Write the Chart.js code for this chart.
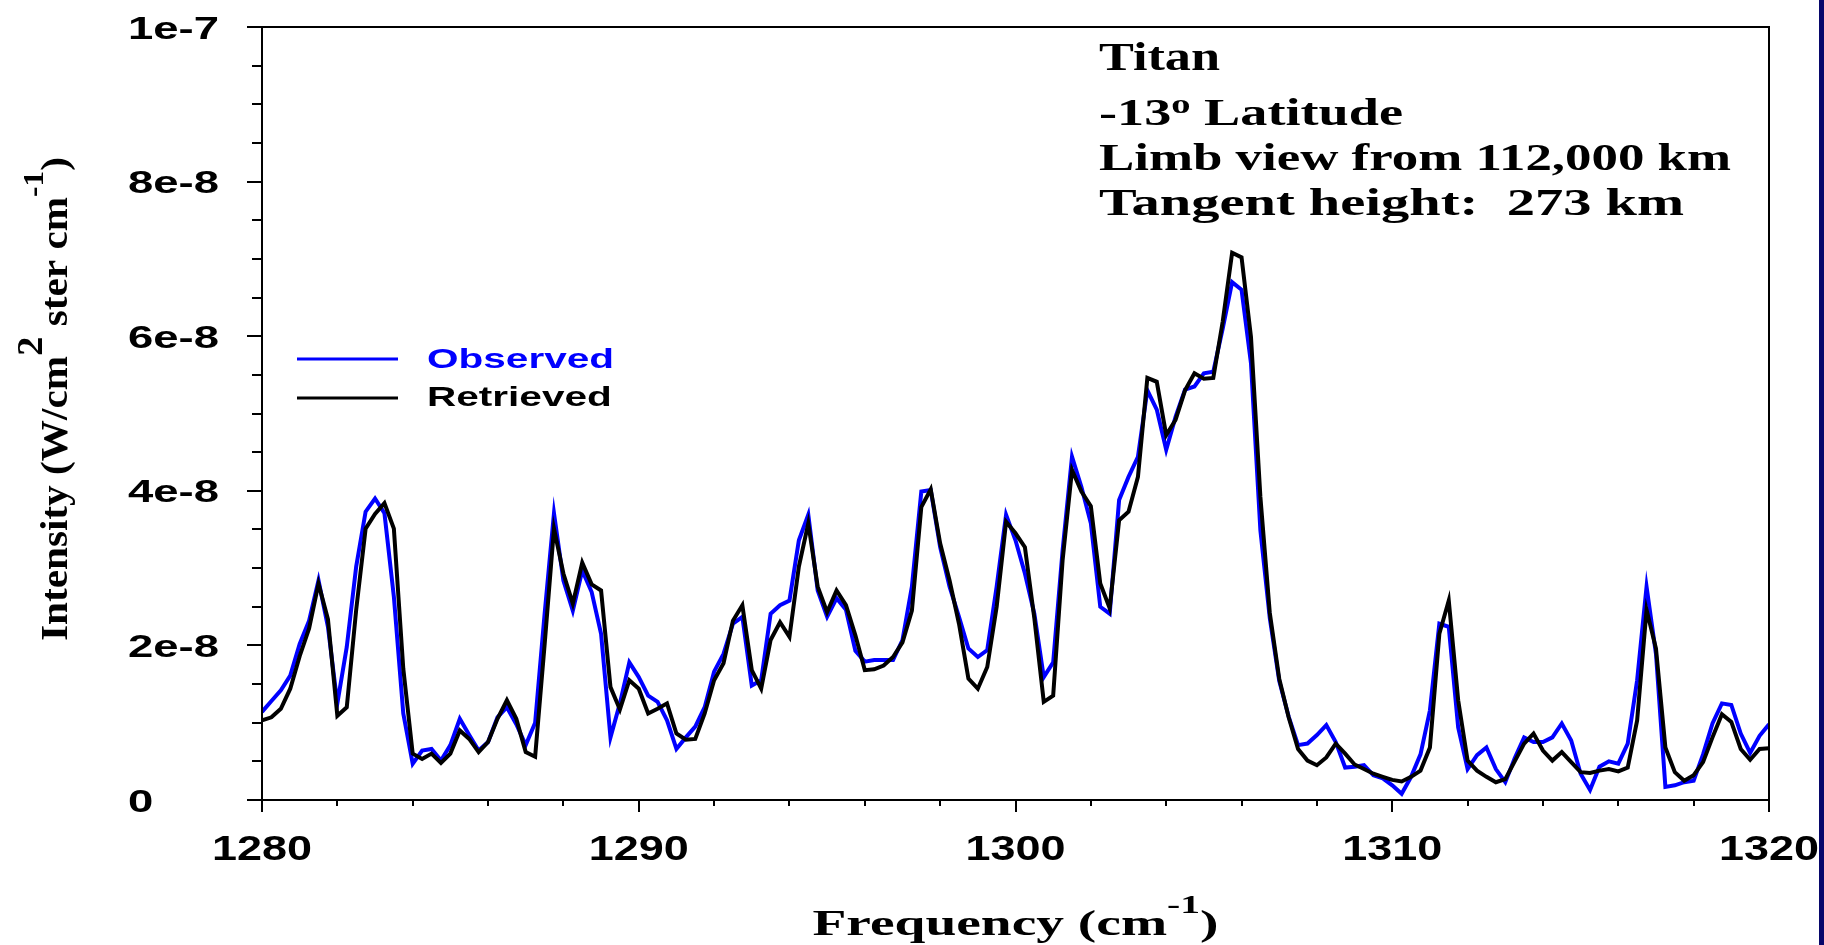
<!DOCTYPE html>
<html>
<head>
<meta charset="utf-8">
<title>Titan limb spectrum</title>
<script src="https://cdn.jsdelivr.net/npm/chart.js@4.4.1/dist/chart.umd.min.js"></script>
<style>
  html, body { margin: 0; padding: 0; background: #fff; overflow: hidden; }
  #wrap { position: relative; width: 1824px; height: 945px; }
  #strip { position: absolute; top: 0; right: 0; width: 5px; height: 945px; background: #07076b; }
</style>
</head>
<body>
<div id="wrap">
  <canvas id="chart" width="1824" height="945"></canvas>
  <div id="strip"></div>
</div>
<script>
// spectrum sampled every 0.25 cm-1 from 1280 to 1320, intensities in units of 1e-8
const freqStart = 1280;
const freqStep = 0.25;
const intensityUnit = 1e-8;

const observed = [
  1.14, 1.28, 1.42, 1.61, 2.02, 2.32, 2.84, 2.24, 1.25, 1.98,
  3.02, 3.73, 3.90, 3.71, 2.63, 1.12, 0.47, 0.64, 0.66, 0.51,
  0.71, 1.05, 0.84, 0.64, 0.75, 1.07, 1.20, 0.98, 0.71, 1.00,
  2.40, 3.71, 2.84, 2.45, 2.97, 2.69, 2.15, 0.81, 1.25, 1.78,
  1.59, 1.35, 1.27, 1.03, 0.66, 0.81, 0.95, 1.20, 1.66, 1.89,
  2.28, 2.37, 1.48, 1.55, 2.41, 2.52, 2.58, 3.36, 3.69, 2.71,
  2.37, 2.61, 2.46, 1.93, 1.79, 1.81, 1.81, 1.81, 2.07, 2.76,
  3.99, 4.01, 3.27, 2.76, 2.37, 1.96, 1.85, 1.94, 2.76, 3.69,
  3.36, 2.93, 2.41, 1.59, 1.78, 3.23, 4.44, 4.05, 3.58, 2.50,
  2.41, 3.88, 4.18, 4.44, 5.30, 5.05, 4.53, 4.96, 5.31, 5.35,
  5.52, 5.54, 6.10, 6.70, 6.60, 5.65, 3.49, 2.35, 1.54, 1.08,
  0.71, 0.73, 0.84, 0.97, 0.75, 0.42, 0.43, 0.45, 0.32, 0.28,
  0.19, 0.08, 0.30, 0.59, 1.16, 2.28, 2.24, 0.94, 0.40, 0.58,
  0.68, 0.40, 0.23, 0.54, 0.81, 0.75, 0.75, 0.81, 0.99, 0.77,
  0.34, 0.13, 0.43, 0.50, 0.47, 0.73, 1.55, 2.76, 1.89, 0.17,
  0.19, 0.23, 0.25, 0.59, 0.99, 1.25, 1.23, 0.86, 0.61, 0.83,
  0.98
];

const retrieved = [
  1.03, 1.07, 1.18, 1.44, 1.86, 2.22, 2.80, 2.34, 1.09, 1.20,
  2.46, 3.51, 3.70, 3.84, 3.51, 1.70, 0.60, 0.53, 0.60, 0.48,
  0.60, 0.90, 0.79, 0.62, 0.75, 1.05, 1.29, 1.05, 0.62, 0.56,
  2.00, 3.51, 2.93, 2.54, 3.07, 2.79, 2.71, 1.46, 1.17, 1.55,
  1.44, 1.12, 1.18, 1.25, 0.86, 0.78, 0.79, 1.12, 1.55, 1.77,
  2.32, 2.52, 1.68, 1.44, 2.07, 2.30, 2.11, 3.02, 3.58, 2.76,
  2.43, 2.71, 2.52, 2.13, 1.68, 1.69, 1.74, 1.85, 2.04, 2.45,
  3.79, 4.02, 3.32, 2.84, 2.28, 1.57, 1.44, 1.72, 2.50, 3.60,
  3.45, 3.27, 2.35, 1.27, 1.35, 3.10, 4.27, 3.99, 3.80, 2.80,
  2.48, 3.62, 3.73, 4.18, 5.46, 5.41, 4.72, 4.92, 5.30, 5.52,
  5.45, 5.46, 6.19, 7.08, 7.02, 5.99, 3.92, 2.42, 1.57, 1.07,
  0.66, 0.51, 0.45, 0.55, 0.73, 0.60, 0.46, 0.40, 0.34, 0.30,
  0.26, 0.24, 0.30, 0.38, 0.68, 2.15, 2.58, 1.29, 0.51, 0.38,
  0.30, 0.23, 0.27, 0.50, 0.73, 0.86, 0.64, 0.51, 0.62, 0.49,
  0.36, 0.35, 0.38, 0.40, 0.37, 0.42, 1.03, 2.46, 1.96, 0.68,
  0.36, 0.25, 0.32, 0.49, 0.81, 1.11, 1.01, 0.66, 0.52, 0.66,
  0.67
];

const xTickValues = [1280, 1290, 1300, 1310, 1320];
const xTickLabels = [`1280`, `1290`, `1300`, `1310`, `1320`];
const xMinorStep = 2;
const yTickValues = [0, 2e-8, 4e-8, 6e-8, 8e-8, 1e-7];
const yTickLabels = [`0`, `2e-8`, `4e-8`, `6e-8`, `8e-8`, `1e-7`];
const yMinorStep = 5e-9;

const infoLines = [`Titan`, `-13`, `Limb view from 112,000 km`, `Tangent height:  273 km`];

const SANS = `"Liberation Sans", Arial, sans-serif`;
const SERIF = `"Liberation Serif", "Times New Roman", serif`;

const toPoints = values => values.map((v, i) => ({x: freqStart + i * freqStep, y: v * intensityUnit}));

// draws a row of text runs [text, size, raise, family], stretched to fit a given width
function drawRuns(ctx, runs, x, y, width, align) {
	let natural = 0;
	runs.forEach(r => {
		ctx.font = `bold ${r[1]}px ${r[3] || SERIF}`;
		natural += ctx.measureText(r[0]).width;
	});
	const sx = width / natural;
	ctx.save();
	ctx.translate(align === `center` ? x - width / 2 : x, y);
	ctx.scale(sx, 1);
	ctx.textAlign = `left`;
	ctx.textBaseline = `alphabetic`;
	let cx = 0;
	runs.forEach(r => {
		ctx.font = `bold ${r[1]}px ${r[3] || SERIF}`;
		ctx.fillText(r[0], cx, -r[2]);
		cx += ctx.measureText(r[0]).width;
	});
	ctx.restore();
}

const axesPlugin = {
	id: `axesFrame`,
	afterDatasetsDraw(chart) {
		const ctx = chart.ctx;
		const {left, right, top, bottom} = chart.chartArea;
		const xs = chart.scales.x;
		const ys = chart.scales.y;
		ctx.save();
		ctx.strokeStyle = `#000`;
		ctx.lineWidth = 2;
		ctx.strokeRect(left, top, right - left, bottom - top);

		ctx.beginPath();
		for (let v = xs.min; v <= xs.max + 1e-9; v += xMinorStep) {
			const px = Math.round(xs.getPixelForValue(v));
			const len = xTickValues.includes(v) ? 12 : 6;
			ctx.moveTo(px, bottom);
			ctx.lineTo(px, bottom + len);
		}
		const yCount = Math.round((ys.max - ys.min) / yMinorStep);
		for (let k = 0; k <= yCount; k++) {
			const py = Math.round(ys.getPixelForValue(k * yMinorStep));
			const len = k % 4 === 0 ? 15 : 10;
			ctx.moveTo(left, py);
			ctx.lineTo(left - len, py);
		}
		ctx.stroke();
		ctx.restore();
	},
	afterDraw(chart) {
		const ctx = chart.ctx;
		const {left, right} = chart.chartArea;
		const xs = chart.scales.x;
		const ys = chart.scales.y;
		ctx.save();
		ctx.fillStyle = `#000`;

		// tick labels
		xTickValues.forEach((v, i) => {
			drawRuns(ctx, [[xTickLabels[i], 35, 0, SANS]], xs.getPixelForValue(v), 860, 100 * xTickLabels[i].length / 4, `center`);
		});
		ctx.font = `bold 32px ${SANS}`;
		const ySx = 91 / ctx.measureText(`8e-8`).width;
		yTickValues.forEach((v, i) => {
			const w = ctx.measureText(yTickLabels[i]).width * ySx;
			drawRuns(ctx, [[yTickLabels[i], 32, 0, SANS]], 128, ys.getPixelForValue(v) + 11.5, w, `left`);
		});

		// axis titles
		drawRuns(ctx, [[`Frequency (cm`, 35, 0], [`-1`, 25, 22], [`)`, 35, 0]], (left + right) / 2, 935, 406, `center`);
		ctx.save();
		ctx.translate(67, 641);
		ctx.rotate(-Math.PI / 2);
		drawRuns(ctx, [[`Intensity (W/cm`, 38, 0], [`2`, 36, 25], [` ster cm`, 38, 0], [`-1`, 29, 24], [`)`, 38, 0]], 0, 0, 484, `left`);
		ctx.restore();

		// legend
		const legendY = [359, 398];
		const textY = [368, 406];
		ctx.font = `bold 28px ${SANS}`;
		const lSx = 187 / ctx.measureText(`Observed`).width;
		chart.data.datasets.forEach((ds, i) => {
			ctx.strokeStyle = ds.borderColor;
			ctx.lineWidth = 3;
			ctx.beginPath();
			ctx.moveTo(297, legendY[i]);
			ctx.lineTo(398, legendY[i]);
			ctx.stroke();
			ctx.fillStyle = ds.borderColor;
			ctx.font = `bold 28px ${SANS}`;
			drawRuns(ctx, [[ds.label, 28, 0, SANS]], 427, textY[i], ctx.measureText(ds.label).width * lSx, `left`);
		});

		// annotation text
		ctx.fillStyle = `#000`;
		drawRuns(ctx, [[infoLines[0], 40, 0]], 1099, 70, 121, `left`);
		drawRuns(ctx, [[infoLines[1], 38, 0], [`o`, 27, 12], [` Latitude`, 38, 0]], 1099, 125, 304, `left`);
		drawRuns(ctx, [[infoLines[2], 38, 0]], 1099, 170, 632, `left`);
		drawRuns(ctx, [[infoLines[3], 38, 0]], 1099, 215, 585, `left`);
		ctx.restore();
	}
};

new Chart(document.getElementById(`chart`), {
	type: `line`,
	data: {
		datasets: [
			{
				label: `Observed`,
				data: toPoints(observed),
				borderColor: `#0000ff`,
				borderWidth: 4,
				pointRadius: 0,
				tension: 0,
				order: 2
			},
			{
				label: `Retrieved`,
				data: toPoints(retrieved),
				borderColor: `#000000`,
				borderWidth: 4,
				pointRadius: 0,
				tension: 0,
				order: 1
			}
		]
	},
	options: {
		responsive: false,
		animation: false,
		events: [],
		layout: {padding: {left: 0, top: 27, right: 55, bottom: 0}},
		plugins: {
			legend: {display: false},
			tooltip: {enabled: false}
		},
		scales: {
			x: {
				type: `linear`,
				min: 1280,
				max: 1320,
				grid: {display: false},
				border: {display: false},
				ticks: {display: false},
				afterFit: scale => { scale.height = 145; }
			},
			y: {
				type: `linear`,
				min: 0,
				max: 1e-7,
				grid: {display: false},
				border: {display: false},
				ticks: {display: false},
				afterFit: scale => { scale.width = 262; }
			}
		}
	},
	plugins: [axesPlugin]
});
</script>
</body>
</html>
